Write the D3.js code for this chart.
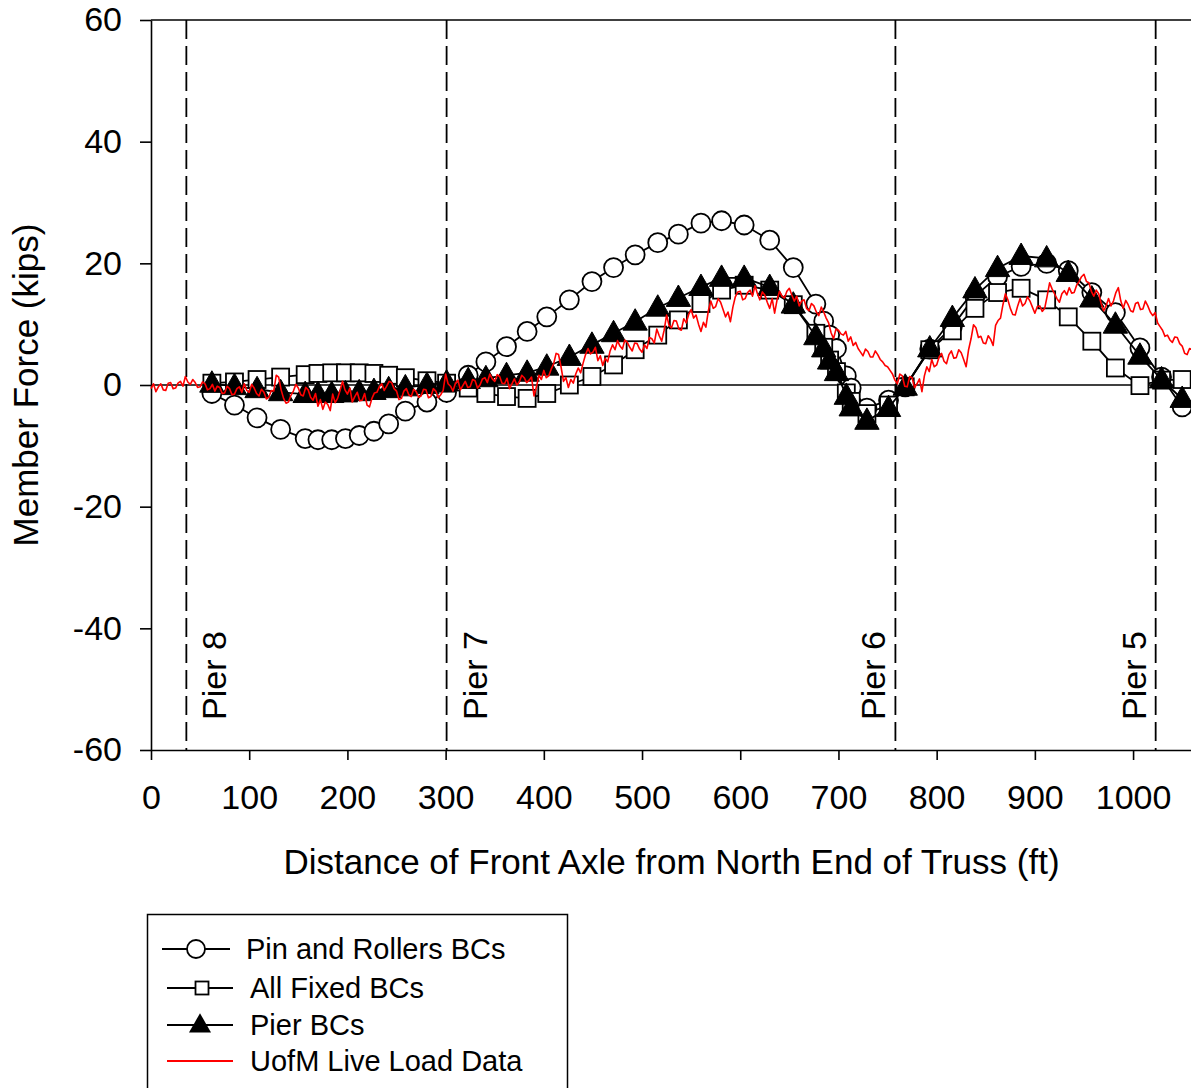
<!DOCTYPE html>
<html>
<head>
<meta charset="utf-8">
<script src="https://cdn.jsdelivr.net/npm/d3@7"></script>
<style>
  html, body { margin: 0; padding: 0; background: #fff; }
  svg { display: block; }
  text { font-family: "Liberation Sans", Arial, sans-serif; fill: #000; }
</style>
</head>
<body>
<svg id="chart" width="1191" height="1088"></svg>
<script>
// ---------- data ----------
const xTicks = [0, 100, 200, 300, 400, 500, 600, 700, 800, 900, 1000];
const yTicks = [-60, -40, -20, 0, 20, 40, 60];

const piers = [
  { name: "Pier 8", x: 36, side: "right" },
  { name: "Pier 7", x: 301, side: "right" },
  { name: "Pier 6", x: 758, side: "left" },
  { name: "Pier 5", x: 1023, side: "left" }
];

// model positions (ft), shared by the three model series
const modelX = [62, 85, 108, 132, 157, 170, 184, 198, 212, 227, 242, 259, 281, 301,
  323, 341, 362, 383, 403, 426, 449, 471, 493, 516, 537, 560, 581, 604, 630, 654,
  677, 685, 691, 698, 708, 713, 729, 751,
  768, 793, 816, 839, 862, 886, 912, 934, 958, 982, 1007, 1029, 1050];

const pinRollers = [-1.4, -3.3, -5.4, -7.3, -8.8, -9.0, -9.0, -8.8, -8.3, -7.6, -6.4, -4.3, -2.8, -1.2,
  1.6, 3.8, 6.3, 8.8, 11.2, 14.0, 17.0, 19.3, 21.4, 23.4, 24.8, 26.6, 27.0, 26.3, 23.8, 19.3,
  13.3, 10.5, 8.2, 6.0, 1.5, -0.5, -3.8, -2.5,
  -0.3, 5.9, 9.6, 14.6, 17.8, 19.5, 20.0, 18.8, 15.2, 11.9, 6.1, 1.3, -3.6];

const allFixed = [0.3, 0.5, 0.9, 1.3, 1.7, 1.9, 2.0, 2.0, 2.0, 1.9, 1.6, 1.2, 0.7, 0.3,
  -0.5, -1.4, -1.9, -2.2, -1.4, 0.0, 1.4, 3.3, 5.8, 8.2, 10.7, 13.4, 15.6, 16.4, 15.6, 13.2,
  8.5, 6.2, 4.1, 2.2, -1.3, -2.7, -4.7, -3.3,
  -0.3, 5.8, 8.9, 12.6, 15.2, 15.9, 14.0, 11.2, 7.2, 2.8, -0.1, 0.8, 0.9];

const pierBCs = [0.2, -0.2, -0.7, -1.2, -1.5, -1.5, -1.5, -1.4, -1.2, -1.0, -0.7, -0.4, 0.0, 0.4,
  0.8, 1.1, 1.6, 2.0, 3.0, 4.6, 6.6, 8.5, 10.4, 12.7, 14.3, 16.1, 17.6, 17.6, 16.1, 13.2,
  8.0, 6.0, 4.0, 2.1, -1.8, -3.7, -5.9, -3.8,
  -0.3, 6.0, 11.0, 15.7, 19.2, 21.2, 20.8, 18.4, 14.2, 9.9, 4.8, 0.9, -2.3];

// UofM live load data, sampled every 2.5 ft from 0 to 1060 ft
const liveStep = 2.5;
const liveLoad = [
  -0.6, 0.2, -1.1, -0.3, 0.2, -0.8, -0.9, 0.3, 0.4, -0.6,
  -0.5, 0.3, 0.6, -0.2, 1.4, 0.5, 0.1, 0.9, 0.4, -0.4,
  -0.3, 0.5, 0.2, -0.8, -0.6, 0.1, -1.0, -0.2, -0.4, -1.4,
  -1.3, -0.2, -0.6, -1.6, -1.5, -0.6, -0.3, -1.2, 0.2, -0.9,
  -1.2, 0.1, -0.5, -1.4, -1.8, -0.7, -1.2, -2.3, -2.0, -0.9,
  -1.0, 1.6, 1.3, -0.8, -2.2, -3.0, -2.8, -1.7, -1.0, 0.1,
  -0.5, -1.6, -1.8, -0.4, -0.8, -2.0, -2.5, -1.4, -3.5, -2.4,
  -4.0, -2.8, -3.2, -4.2, -1.5, -2.9, -2.2, -0.9, 0.6, -0.8,
  -1.5, -0.5, -2.8, -1.9, -1.2, -2.6, -2.5, -1.4, -3.3, -3.6,
  -2.2, -1.3, -1.2, -0.3, 0.2, -0.9, -0.2, 0.6, 0.4, -0.6,
  -1.0, -2.4, -2.2, -1.0, -0.6, -1.6, -1.9, -0.7, -1.1, -2.0,
  -1.8, -0.7, -0.8, -2.1, -1.9, -0.6, -1.0, -2.1, -1.6, -0.9,
  1.8, 0.2, -0.2, -1.0, 0.3, 0.8, -0.8, -0.1, 0.6, -0.4,
  -0.3, 0.9, 0.7, -0.5, 0.0, 1.0, 1.2, 0.4, 1.8, 1.0,
  0.6, 1.7, 1.4, 0.3, 0.2, 1.1, -0.6, 0.2, 1.0, 0.0,
  0.5, 1.6, 1.2, 0.4, 0.8, 1.3, -1.8, -0.3, 1.6, 0.9,
  2.4, 1.2, 1.5, 2.6, 3.5, 5.2, 5.0, 3.0, 0.6, 1.2,
  -0.4, 0.9, 0.3, 1.8, 2.8, 2.0, 3.6, 5.0, 6.0, 5.1,
  5.4, 6.2, 4.0, 4.8, 3.2, 4.4, 3.8, 5.6, 6.6, 5.8,
  7.3, 6.4, 5.9, 7.4, 7.0, 6.2, 5.6, 6.9, 6.8, 5.9,
  5.4, 6.6, 6.0, 7.8, 7.6, 6.9, 9.2, 8.1, 7.2, 9.0,
  11.5, 9.8, 9.4, 10.6, 10.5, 9.2, 9.0, 10.9, 10.2, 11.6,
  12.4, 11.0, 11.5, 10.0, 8.8, 10.3, 9.5, 12.2, 13.8, 12.6,
  12.9, 14.2, 13.6, 12.4, 11.2, 12.0, 10.4, 12.8, 14.5, 15.3,
  15.4, 14.0, 14.2, 15.2, 15.6, 14.6, 16.3, 15.0, 14.0, 15.3,
  14.8, 13.6, 12.6, 14.2, 11.8, 14.0, 15.4, 14.6, 14.3, 15.4,
  15.9, 14.8, 13.8, 14.6, 13.0, 13.8, 14.0, 12.6, 12.2, 13.4,
  13.0, 12.0, 11.4, 12.8, 12.0, 11.0, 10.2, 8.6, 7.6, 9.2,
  9.0, 8.4, 8.2, 8.8, 7.2, 7.9, 6.5, 7.0, 6.0, 5.4,
  4.8, 5.9, 5.5, 4.6, 4.6, 5.6, 5.0, 4.2, 3.8, 3.2,
  3.0, 2.4, 1.8, 0.8, 0.2, 1.8, 1.5, -0.2, -0.3, 1.4,
  1.2, -0.4, 0.2, 1.0, -1.1, 1.5, 3.0, 2.2, 4.2, 3.0,
  3.3, 4.6, 5.2, 3.9, 3.5, 5.0, 5.6, 4.4, 4.5, 5.8,
  5.3, 4.2, 3.0, 5.8, 7.6, 9.9, 9.4, 7.8, 8.0, 6.9,
  6.8, 8.1, 7.5, 6.5, 9.8, 10.6, 11.0, 13.2, 15.0, 14.0,
  12.6, 11.6, 11.5, 13.0, 14.2, 13.0, 13.4, 14.5, 13.8, 12.8,
  11.8, 12.9, 13.0, 12.1, 12.6, 14.6, 16.8, 15.8, 15.0, 14.2,
  13.6, 15.0, 15.5, 14.8, 16.0, 15.1, 15.2, 16.4, 17.0, 17.8,
  18.2, 17.0, 16.8, 15.4, 14.6, 15.6, 15.0, 13.4, 12.2, 13.0,
  14.2, 13.0, 13.8, 15.2, 16.0, 13.8, 12.6, 13.9, 13.2, 12.2,
  12.0, 13.4, 13.6, 12.4, 12.5, 13.8, 13.0, 12.0, 11.4, 11.9,
  10.2, 9.6, 9.0, 8.0, 8.2, 7.4, 7.0, 7.9, 7.8, 6.8,
  6.4, 5.2, 5.0, 6.0, 5.8
];

const legendItems = [
  { label: "Pin and Rollers BCs", symbol: "circle" },
  { label: "All Fixed BCs", symbol: "square" },
  { label: "Pier BCs", symbol: "triangle" },
  { label: "UofM Live Load Data", symbol: "red" }
];

// ---------- chart ----------
const svg = d3.select("#chart");
const x = d3.scaleLinear().domain([0, 1060]).range([151, 1192]);
const y = d3.scaleLinear().domain([-60, 60]).range([750, 20]);
const FONT = 34;
const TITLE_FONT = 35;
const FAMILY = "Liberation Sans, Arial, sans-serif";

// top frame
svg.append("line").attr("x1", x(0)).attr("x2", x(1060)).attr("y1", y(60)).attr("y2", y(60))
  .attr("stroke", "#000").attr("stroke-width", 1.6);

// zero line
svg.append("line").attr("x1", x(0)).attr("x2", x(1060)).attr("y1", y(0)).attr("y2", y(0))
  .attr("stroke", "#000").attr("stroke-width", 1.6);

// axes
const yAxis = svg.append("g").attr("transform", `translate(${x(0)},0)`)
  .call(d3.axisLeft(y).tickValues(yTicks).tickSize(11).tickSizeOuter(0).tickPadding(18).tickFormat(d3.format("d")));
const xAxis = svg.append("g").attr("transform", `translate(0,${y(-60)})`)
  .call(d3.axisBottom(x).tickValues(xTicks).tickSize(10).tickSizeOuter(0).tickPadding(25).tickFormat(d3.format("d")));
[yAxis, xAxis].forEach(g => {
  g.selectAll("path, line").attr("stroke", "#000").attr("stroke-width", 1.6);
  g.selectAll("text").attr("font-size", FONT).attr("font-family", FAMILY).attr("fill", "#000");
});
yAxis.selectAll("text").text(d => d < 0 ? "-" + Math.abs(d) : d);

// pier lines and labels
piers.forEach(p => {
  svg.append("line").attr("x1", x(p.x)).attr("x2", x(p.x)).attr("y1", y(60)).attr("y2", y(-60))
    .attr("stroke", "#000").attr("stroke-width", 1.8).attr("stroke-dasharray", "19,7");
  const bx = p.side === "right" ? x(p.x) + 40 : x(p.x) - 10;
  svg.append("text").attr("transform", `translate(${bx},720) rotate(-90)`)
    .attr("font-size", FONT).attr("text-anchor", "start").text(p.name);
});

// axis titles
svg.append("text").attr("transform", `translate(${(x(0) + x(1060)) / 2},874)`)
  .attr("text-anchor", "middle").attr("font-size", TITLE_FONT)
  .text("Distance of Front Axle from North End of Truss (ft)");
svg.append("text").attr("transform", `translate(38,${y(0)}) rotate(-90)`)
  .attr("text-anchor", "middle").attr("font-size", TITLE_FONT)
  .text("Member Force (kips)");

// series
const line = d3.line().x(d => x(d[0])).y(d => y(d[1]));
const toPts = vals => modelX.map((xv, i) => [xv, vals[i]]);

const triPath = s => `M0,${-s * 0.62}L${s * 0.58},${s * 0.4}L${-s * 0.58},${s * 0.4}Z`;

function drawModel(vals, symbol) {
  const pts = toPts(vals);
  svg.append("path").datum(pts).attr("d", line).attr("fill", "none")
    .attr("stroke", "#000").attr("stroke-width", 1.8);
  const g = svg.append("g");
  if (symbol === "circle") {
    g.selectAll("circle").data(pts).join("circle")
      .attr("cx", d => x(d[0])).attr("cy", d => y(d[1])).attr("r", 9.5)
      .attr("fill", "#fff").attr("stroke", "#000").attr("stroke-width", 1.8);
  } else if (symbol === "square") {
    g.selectAll("rect").data(pts).join("rect")
      .attr("x", d => x(d[0]) - 8.5).attr("y", d => y(d[1]) - 8.5).attr("width", 17).attr("height", 17)
      .attr("fill", "#fff").attr("stroke", "#000").attr("stroke-width", 1.8);
  } else {
    g.selectAll("path").data(pts).join("path")
      .attr("transform", d => `translate(${x(d[0])},${y(d[1])})`)
      .attr("d", triPath(21)).attr("fill", "#000").attr("stroke", "#000").attr("stroke-width", 1);
  }
}
drawModel(pinRollers, "circle");
drawModel(allFixed, "square");
drawModel(pierBCs, "triangle");

const livePts = liveLoad.map((v, i) => [i * liveStep, v]);
svg.append("path").datum(livePts).attr("d", line).attr("fill", "none")
  .attr("stroke", "#ff0000").attr("stroke-width", 1.6).attr("stroke-linejoin", "round");

// legend
const lg = svg.append("g");
lg.append("rect").attr("x", 147.5).attr("y", 914.5).attr("width", 420).attr("height", 190)
  .attr("fill", "none").attr("stroke", "#000").attr("stroke-width", 1.5);
const rows = [
  { y: 949, x1: 162, x2: 230, sx: 196, tx: 246 },
  { y: 988, x1: 167, x2: 233, sx: 202, tx: 250 },
  { y: 1025, x1: 167, x2: 233, sx: 200, tx: 250 },
  { y: 1061, x1: 167, x2: 233, sx: 200, tx: 250 }
];
legendItems.forEach((it, i) => {
  const r = rows[i];
  lg.append("line").attr("x1", r.x1).attr("x2", r.x2).attr("y1", r.y).attr("y2", r.y)
    .attr("stroke", it.symbol === "red" ? "#ff0000" : "#000").attr("stroke-width", 1.8);
  if (it.symbol === "circle") {
    lg.append("circle").attr("cx", r.sx).attr("cy", r.y).attr("r", 9)
      .attr("fill", "#fff").attr("stroke", "#000").attr("stroke-width", 1.8);
  } else if (it.symbol === "square") {
    lg.append("rect").attr("x", r.sx - 6.5).attr("y", r.y - 6.5).attr("width", 13).attr("height", 13)
      .attr("fill", "#fff").attr("stroke", "#000").attr("stroke-width", 1.8);
  } else if (it.symbol === "triangle") {
    lg.append("path").attr("transform", `translate(${r.sx},${r.y})`).attr("d", triPath(19))
      .attr("fill", "#000");
  }
  lg.append("text").attr("x", r.tx).attr("y", r.y + 10).attr("font-size", 29).text(it.label);
});
</script>
</body>
</html>
